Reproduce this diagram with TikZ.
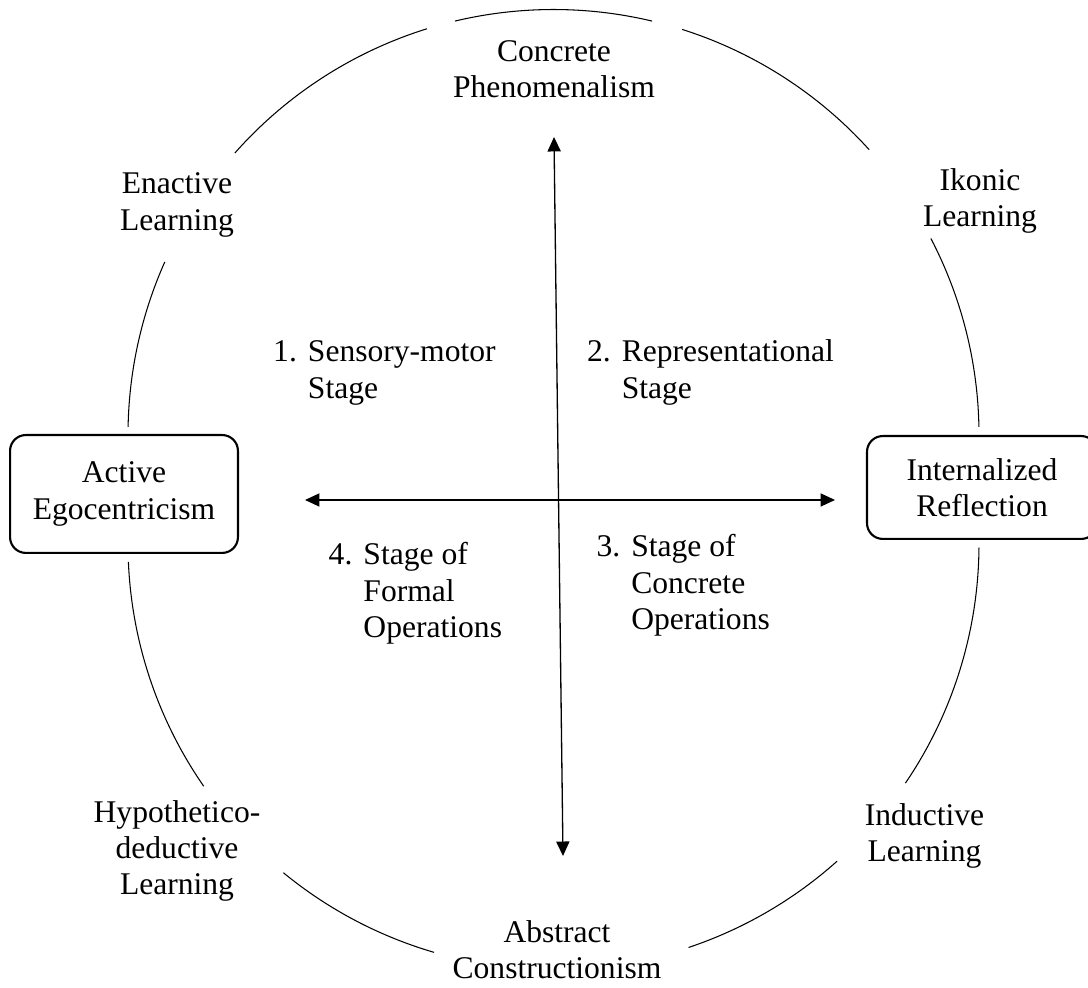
\documentclass[tikz,border=0pt]{standalone}
\usepackage{fontspec}
\setmainfont{Liberation Serif}
\usepackage{tikz}
\usetikzlibrary{arrows.meta}

\begin{document}
\begin{tikzpicture}[x=.38pt,y=.38pt,
	ring/.style={line width=.4pt,black},
	pole/.style={draw,line width=.8pt,rounded corners=6pt,align=center,inner sep=0pt},
	phase/.style={align=center},
	stage/.style={anchor=base west,inner sep=0pt},
	axis/.style={line width=.5pt,{Triangle[length=5.5pt,width=5pt]}-{Triangle[length=5.5pt,width=5pt]}},
	every node/.append style={font=\fontsize{12}{13.8}\selectfont}]
	
	\useasboundingbox (0,0) rectangle (1088,988);
	
	%ring: upper half and lower half, broken at the labels
	\coordinate (U) at (553.5,553);
	\coordinate (L) at (553.5,444);
	\def\R{425.5}
	\foreach \c/\a/\b in {U/107.3/138.5,U/76.6/103.4,U/42.1/72.4,U/1.1/27.5,U/156/178.9,
		L/-34.2/-.5,L/-71.5/-48.2,L/230.6/253.7,L/182.4/214.7}
	{\draw[ring] (\c) ++(\a:\R) arc[start angle=\a,end angle=\b,radius=\R];}
	
	%the two poles
	\node[pole,minimum width=86.6pt,minimum height=44.8pt] (active) at (124,494) {Active\\Egocentricism};
	\node[pole,minimum width=87.4pt,minimum height=39.1pt] (intern) at (982,500.5) {Internalized\\Reflection};
	
	%labels on the ring
	\node[phase] (concrete) at (554,918.5) {Concrete\\Phenomenalism};
	\node[phase] (enactive) at (177,783) {Enactive\\Learning};
	\node[phase] (ikonic) at (980,787) {Ikonic\\Learning};
	\node[phase] (hypo) at (177,137) {Hypothetico-\\deductive\\Learning};
	\node[phase] (inductive) at (924.5,152) {Inductive\\Learning};
	\node[phase] (abstract) at (557,38.3) {Abstract\\Constructionism};
	
	%the four stages
	\node[stage] (st1) at (272.7,626.3) {\begin{tabular}[t]{@{}l@{\hspace{4.2pt}}l@{}}1. & Sensory-motor\\ & Stage\end{tabular}};
	\node[stage] (st2) at (586.5,626.3) {\begin{tabular}[t]{@{}l@{\hspace{4.2pt}}l@{}}2. & Representational\\ & Stage\end{tabular}};
	\node[stage] (st3) at (596,431) {\begin{tabular}[t]{@{}l@{\hspace{4.2pt}}l@{}}3. & Stage of\\ & Concrete\\ & Operations\end{tabular}};
	\node[stage] (st4) at (328.2,423) {\begin{tabular}[t]{@{}l@{\hspace{4.2pt}}l@{}}4. & Stage of\\ & Formal\\ & Operations\end{tabular}};
	
	%axes
	\coordinate (ptop) at (554,851);
	\coordinate (pbot) at (563,132);
	\coordinate (pleft) at (305,488);
	\coordinate (pright) at (835,488);
	\draw[axis] (pbot) -- (ptop);
	\draw[axis] (pleft) -- (pright);
	
\end{tikzpicture}
\end{document}
